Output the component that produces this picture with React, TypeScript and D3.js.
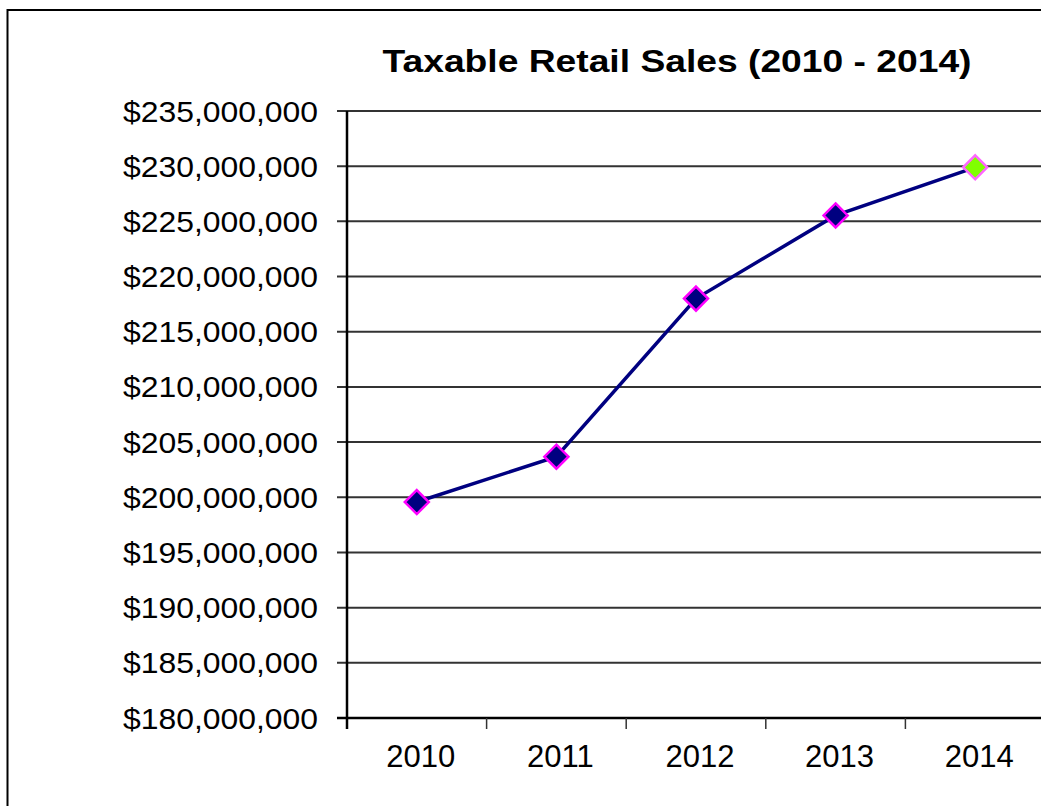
import React from "react";
import * as d3 from "d3";

const years = ["2010", "2011", "2012", "2013", "2014"];
const sales = [199570000, 203680000, 218000000, 225540000, 229900000];
const yTicks = [180000000, 185000000, 190000000, 195000000, 200000000, 205000000, 210000000, 215000000, 220000000, 225000000, 230000000, 235000000];
const title = "Taxable Retail Sales (2010 - 2014)";

const W = 1041;
const H = 806;
const plotLeft = 347;
const plotRight = 1045;
const plotTop = 111;
const plotBottom = 718;

export default function App() {
  const x = d3.scaleBand<string>().domain(years).range([plotLeft, plotRight]);
  const y = d3.scaleLinear().domain([180000000, 235000000]).range([plotBottom, plotTop]);
  const fmt = (v: number) => "$" + d3.format(",")(v);
  const line = d3
    .line<number>()
    .x((_, i) => (x(years[i]) as number) + x.bandwidth() / 2)
    .y((d) => y(d));
  const boundaries = years.map((yr) => x(yr) as number);
  const font = "'Liberation Sans', Arial, sans-serif";
  const diamond = (cx: number, cy: number, r: number) =>
    `M${cx},${cy - r}L${cx + r},${cy}L${cx},${cy + r}L${cx - r},${cy}Z`;

  return (
    <svg
      width={W}
      height={H}
      style={{ position: "absolute", left: 0, top: 0, background: "#fff" }}
    >
      <rect x={7.5} y={10} width={1100} height={900} fill="#fff" stroke="#000" strokeWidth={2} />
      <text
        x={677}
        y={72}
        textAnchor="middle"
        fontFamily={font}
        fontWeight="bold"
        fontSize={31}
        textLength={589}
        lengthAdjust="spacingAndGlyphs"
      >
        {title}
      </text>
      {yTicks.map((t) => (
        <g key={t}>
          <line
            x1={plotLeft - 10}
            x2={plotRight}
            y1={y(t)}
            y2={y(t)}
            stroke={t === 180000000 ? "#000" : "#333"}
            strokeWidth={t === 180000000 ? 2.5 : 2}
          />
          <text
            x={318}
            y={y(t) + 10.5}
            textAnchor="end"
            fontFamily={font}
            fontSize={29}
            textLength={195}
            lengthAdjust="spacingAndGlyphs"
          >
            {fmt(t)}
          </text>
        </g>
      ))}
      <line x1={plotLeft} x2={plotLeft} y1={plotTop} y2={plotBottom + 11} stroke="#000" strokeWidth={2.5} />
      {boundaries.slice(1).map((b) => (
        <line key={b} x1={b} x2={b} y1={plotBottom} y2={plotBottom + 11} stroke="#333" strokeWidth={1.5} />
      ))}
      {years.map((yr) => (
        <text
          key={yr}
          x={(x(yr) as number) + x.bandwidth() / 2 + 4}
          y={767}
          textAnchor="middle"
          fontFamily={font}
          fontSize={31}
        >
          {yr}
        </text>
      ))}
      <path d={line(sales) || ""} fill="none" stroke="#000080" strokeWidth={3.5} />
      {sales.map((v, i) => {
        const cx = (x(years[i]) as number) + x.bandwidth() / 2;
        const last = i === sales.length - 1;
        return (
          <path
            key={i}
            d={diamond(cx, y(v), 12)}
            fill={last ? "#80FF00" : "#000080"}
            stroke={last ? "#FF66FF" : "#FF00FF"}
            strokeWidth={2.5}
          />
        );
      })}
    </svg>
  );
}
